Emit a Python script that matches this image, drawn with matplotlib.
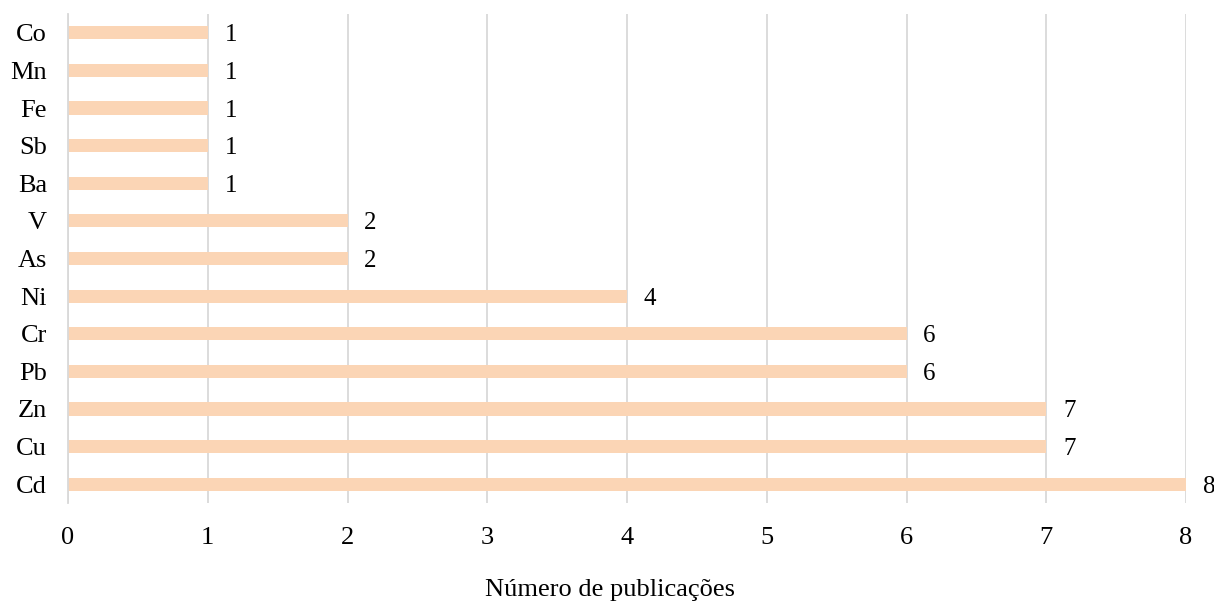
import matplotlib
matplotlib.use("Agg")
import matplotlib.pyplot as plt

elements = ["Cd", "Cu", "Zn", "Pb", "Cr", "Ni", "As", "V", "Ba", "Sb", "Fe", "Mn", "Co"]
publications = [8, 7, 7, 6, 6, 4, 2, 2, 1, 1, 1, 1, 1]
x_ticks = [0, 1, 2, 3, 4, 5, 6, 7, 8]

plt.rcParams["font.family"] = ["Liberation Serif", "DejaVu Serif"]
FS = 19

fig = plt.figure(figsize=(12.14, 6.08), dpi=100)
ax = fig.add_axes([68 / 1214, 1 - 503 / 608, (1186 - 68) / 1214, (503 - 14) / 608])

positions = list(range(len(elements)))
ax.barh(positions, publications, height=0.35, color="#FBD5B5", zorder=2)

for pos, val in zip(positions, publications):
    ax.annotate(str(val), xy=(val, pos), xytext=(12, 0), textcoords="offset points",
                ha="left", va="center_baseline", fontsize=FS - 1, color="#000000")

ax.set_xlim(0, 8)
ax.set_ylim(-0.5, len(elements) - 0.5)
ax.set_xticks(x_ticks)
ax.set_xticklabels([str(t) for t in x_ticks], fontsize=FS)
ax.set_yticks(positions)
ax.set_yticklabels(elements, fontsize=FS)
ax.tick_params(axis="both", length=0)
ax.tick_params(axis="x", pad=17)
ax.tick_params(axis="y", pad=15)

ax.grid(axis="x", color="#D9D9D9", linewidth=1.3, zorder=0)
for side in ["top", "right", "bottom"]:
    ax.spines[side].set_visible(False)
ax.spines["left"].set_color("#D9D9D9")
ax.spines["left"].set_linewidth(1.3)

ax.set_xlabel("Número de publicações", fontsize=FS)
ax.xaxis.set_label_coords((610 - 68) / 1118, -(590 - 503) / 489)
ax.xaxis.label.set_verticalalignment("center")

fig.savefig("out.png", dpi=100)
